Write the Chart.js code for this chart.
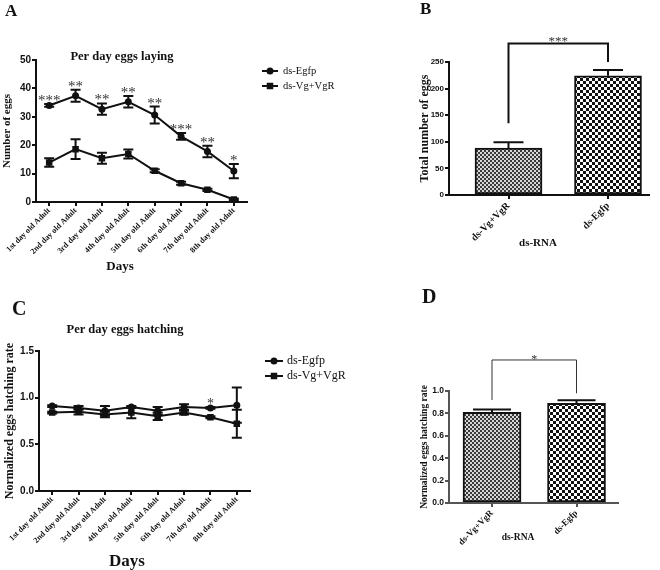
<!DOCTYPE html>
<html>
<head>
<meta charset="utf-8">
<script src="https://cdn.jsdelivr.net/npm/chart.js@4"></script>
<style>
  body { margin: 0; background: #fff; }
  #wrap { position: relative; width: 660px; height: 570px; overflow: hidden; }
  #wrap canvas { position: absolute; }
  .tag { position: absolute; font-family: "Liberation Serif"; font-weight: bold; line-height: 1; color: #111; }
</style>
</head>
<body>
<div id="wrap">
  <canvas id="cA" width="370" height="280" style="left:0;top:0;width:370px;height:280px"></canvas>
  <canvas id="cB" width="290" height="280" style="left:370px;top:0;width:290px;height:280px"></canvas>
  <canvas id="cC" width="370" height="294" style="left:0;top:280px;width:370px;height:294px"></canvas>
  <canvas id="cD" width="290" height="290" style="left:370px;top:280px;width:290px;height:290px"></canvas>
  <div class="tag" style="left:5px;top:2px;font-size:17px">A</div>
  <div class="tag" style="left:420px;top:0;font-size:17px">B</div>
  <div class="tag" style="left:12px;top:298px;font-size:20px">C</div>
  <div class="tag" style="left:422px;top:286px;font-size:20px">D</div>
</div>
<script>
// ---- data ----
const days = ['1st day old Adult', '2nd day old Adult', '3rd day old Adult', '4th day old Adult',
              '5th day old Adult', '6th day old Adult', '7th day old Adult', '8th day old Adult'];

// A: per day eggs laying
const layEgfp    = [34.0, 37.4, 32.7, 35.3, 30.6, 23.1, 17.8, 10.9];
const layEgfpErr = [0.5, 2.1, 2.0, 2.0, 3.0, 1.2, 2.0, 2.5];
const layVg      = [13.9, 18.6, 15.4, 16.9, 11.0, 6.6, 4.3, 0.9];
const layVgErr   = [1.5, 3.5, 1.9, 1.6, 0.5, 0.5, 0.4, 0.3];
const layStars   = ['***', '**', '**', '**', '**', '***', '**', '*'];

// C: per day eggs hatching
const hatchEgfp    = [0.91, 0.89, 0.86, 0.90, 0.86, 0.90, 0.89, 0.92];
const hatchEgfpErr = [0.01, 0.02, 0.05, 0.01, 0.04, 0.03, 0.01, 0.19];
const hatchVg      = [0.84, 0.85, 0.82, 0.84, 0.80, 0.84, 0.79, 0.72];
const hatchVgErr   = [0.01, 0.03, 0.03, 0.06, 0.04, 0.02, 0.01, 0.15];
const hatchStars   = ['', '', '', '', '', '', '*', ''];

// B and D: totals per treatment
const groups       = ['ds-Vg+VgR', 'ds-Egfp'];
const totalEggs    = [88, 224];
const totalEggsErr = [11, 11];
const hatchRate    = [0.81, 0.89];
const hatchRateErr = [0.024, 0.027];

const yTicksA = [0, 10, 20, 30, 40, 50];
const yTicksB = [0, 50, 100, 150, 200, 250];
const yTicksC = [0, 0.5, 1.0, 1.5];
const yTicksD = [0, 0.2, 0.4, 0.6, 0.8, 1.0];

Chart.defaults.font.family = 'Liberation Serif';
Chart.defaults.color = '#111';
Chart.defaults.animation = false;
Chart.defaults.plugins.legend.display = false;
Chart.defaults.plugins.tooltip.enabled = false;

const INK = '#111';

function val(d) { return typeof d === 'object' ? d.y : d; }

function checker(cell, a, b) {
  const c = document.createElement('canvas');
  c.width = c.height = cell * 2;
  const g = c.getContext('2d');
  g.fillStyle = b; g.fillRect(0, 0, cell * 2, cell * 2);
  g.fillStyle = a; g.fillRect(0, 0, cell, cell); g.fillRect(cell, cell, cell, cell);
  return g.createPattern(c, 'repeat');
}
const fine = checker(2, '#3a3a3a', '#d6d6d6');
const coarse = checker(3, '#111', '#fff');

// error bars: drawn from the dataset's errors array through the y scale
const errorBars = {
  id: 'errorBars',
  afterDatasetsDraw(chart, args, o) {
    const ctx = chart.ctx, ys = chart.scales.y;
    ctx.save();
    ctx.strokeStyle = INK;
    ctx.lineWidth = o.width || 2;
    chart.data.datasets.forEach((ds, di) => {
      if (!ds.errors) return;
      chart.getDatasetMeta(di).data.forEach((el, i) => {
        const v = val(ds.data[i]), e = ds.errors[i];
        const top = ys.getPixelForValue(v + e);
        const bot = o.upOnly ? ys.getPixelForValue(v) : ys.getPixelForValue(v - e);
        const x = el.x, c = o.cap;
        ctx.beginPath();
        ctx.moveTo(x, top); ctx.lineTo(x, bot);
        ctx.moveTo(x - c, top); ctx.lineTo(x + c, top);
        if (!o.upOnly) { ctx.moveTo(x - c, bot); ctx.lineTo(x + c, bot); }
        ctx.stroke();
      });
    });
    ctx.restore();
  }
};

// significance stars above the upper error bar
const stars = {
  id: 'stars',
  afterDatasetsDraw(chart, args, o) {
    const ctx = chart.ctx, ys = chart.scales.y;
    ctx.save();
    ctx.font = o.font;
    ctx.fillStyle = '#333';
    ctx.textAlign = 'center';
    ctx.textBaseline = 'alphabetic';
    chart.data.datasets.forEach((ds, di) => {
      if (!ds.stars) return;
      chart.getDatasetMeta(di).data.forEach((el, i) => {
        if (!ds.stars[i]) return;
        const top = ys.getPixelForValue(val(ds.data[i]) + ds.errors[i]);
        ctx.fillText(ds.stars[i], el.x, top + o.shift);
      });
    });
    ctx.restore();
  }
};

// comparison bracket between the two bars (data units)
const bracket = {
  id: 'bracket',
  afterDraw(chart, args, o) {
    if (!o.label) return;
    const ctx = chart.ctx, xs = chart.scales.x, ys = chart.scales.y;
    const x1 = xs.getPixelForValue(o.x1), x2 = xs.getPixelForValue(o.x2);
    const yt = ys.getPixelForValue(o.top);
    ctx.save();
    ctx.strokeStyle = o.color || INK;
    ctx.lineWidth = o.width;
    ctx.beginPath();
    ctx.moveTo(x1, ys.getPixelForValue(o.end1));
    ctx.lineTo(x1, yt);
    ctx.lineTo(x2, yt);
    ctx.lineTo(x2, ys.getPixelForValue(o.end2));
    ctx.stroke();
    ctx.font = o.font;
    ctx.fillStyle = '#333';
    ctx.textAlign = 'center';
    ctx.fillText(o.label, (x1 + x2) / 2, yt + o.shift);
    ctx.restore();
  }
};

// legend with line + marker, placed right of the plot
const sideLegend = {
  id: 'sideLegend',
  afterDraw(chart, args, o) {
    if (!o.x) return;
    const ctx = chart.ctx;
    ctx.save();
    ctx.font = o.font;
    ctx.textBaseline = 'middle';
    chart.data.datasets.forEach((ds, i) => {
      const y = o.y + i * o.gap;
      ctx.strokeStyle = INK; ctx.fillStyle = INK; ctx.lineWidth = 2;
      ctx.beginPath(); ctx.moveTo(o.x, y); ctx.lineTo(o.x + o.len, y); ctx.stroke();
      Chart.helpers.drawPoint(ctx, { pointStyle: ds.pointStyle, radius: ds.pointRadius, borderWidth: 0, rotation: 0 }, o.x + o.len / 2, y);
      ctx.fillStyle = INK;
      ctx.fillText(ds.label, o.x + o.len + o.textGap, y);
    });
    ctx.restore();
  }
};

// free text: plot titles and x axis titles
const texts = {
  id: 'texts',
  afterDraw(chart, args, o) {
    if (!o.items) return;
    const ctx = chart.ctx;
    ctx.save();
    ctx.fillStyle = INK;
    ctx.textAlign = 'center';
    ctx.textBaseline = 'middle';
    o.items.forEach(t => { ctx.font = t.font; ctx.fillText(t.text, t.x, t.y); });
    ctx.restore();
  }
};

function yAxis(ticks, title, tickSize, titleSize, width, color) {
  return {
    min: ticks[0], max: ticks[ticks.length - 1],
    afterBuildTicks: s => { s.ticks = ticks.map(v => ({ value: v })); },
    afterFit: s => { s.width = width; s.paddingTop = 0; s.paddingBottom = 0; },
    border: { display: true, color: color || INK, width: 2 },
    grid: { drawOnChartArea: false, drawTicks: true, tickLength: 4, color: color || INK, lineWidth: 2 },
    ticks: {
      padding: 1, color: INK,
      font: { family: 'Liberation Sans', weight: 'bold', size: tickSize },
      callback: v => (ticks[ticks.length - 1] <= 1.5 ? v.toFixed(1) : v)
    },
    title: { display: true, text: title, color: INK, padding: { top: 1, bottom: 1 },
             font: { family: 'Liberation Serif', weight: 'bold', size: titleSize } }
  };
}

function lineDatasets(egfp, egfpErr, vg, vgErr, st) {
  return [
    { label: 'ds-Egfp', data: egfp, errors: egfpErr, stars: st,
      borderColor: INK, backgroundColor: INK, borderWidth: 2,
      pointStyle: 'circle', pointRadius: 3.5, pointBorderWidth: 0, tension: 0 },
    { label: 'ds-Vg+VgR', data: vg, errors: vgErr,
      borderColor: INK, backgroundColor: INK, borderWidth: 2,
      pointStyle: 'rect', pointRadius: 4.6, pointBorderWidth: 0, tension: 0 }
  ];
}

function dayAxis(height, size) {
  return {
    type: 'category', offset: true,
    afterFit: s => { s.height = height; s.paddingLeft = 0; s.paddingRight = 0; },
    border: { display: true, color: INK, width: 2 },
    grid: { offset: false, drawOnChartArea: false, drawTicks: true, tickLength: 4, color: INK, lineWidth: 2 },
    ticks: { autoSkip: false, minRotation: 45, maxRotation: 45, padding: 0, color: INK,
             font: { family: 'Liberation Serif', weight: 'bold', size: size } }
  };
}

function groupAxis(min, max, height, size, color) {
  return {
    type: 'linear', min: min, max: max, offset: false,
    afterBuildTicks: s => { s.ticks = groups.map((g, i) => ({ value: i })); },
    afterFit: s => { s.height = height; s.paddingLeft = 0; s.paddingRight = 0; },
    border: { display: true, color: color || INK, width: 2 },
    grid: { offset: false, drawOnChartArea: false, drawTicks: true, tickLength: 4, color: color || INK, lineWidth: 2 },
    ticks: { autoSkip: false, minRotation: 45, maxRotation: 45, padding: 1, color: INK,
             callback: v => groups[v] || '',
             font: { family: 'Liberation Serif', weight: 'bold', size: size } }
  };
}

// ---- A ----
new Chart(document.getElementById('cA'), {
  type: 'line',
  data: { labels: days, datasets: lineDatasets(layEgfp, layEgfpErr, layVg, layVgErr, layStars) },
  plugins: [errorBars, stars, sideLegend, texts],
  options: {
    responsive: false,
    layout: { padding: { left: 0, top: 60, right: 123, bottom: 3 } },
    scales: { x: dayAxis(75, 8), y: yAxis(yTicksA, 'Number of eggs', 10, 11, 36) },
    plugins: {
      errorBars: { cap: 5, width: 2 },
      stars: { font: '15px "Liberation Serif"', shift: 1 },
      sideLegend: { x: 262, y: 71, gap: 15, len: 16, textGap: 5, font: '10.5px "Liberation Serif"' },
      texts: { items: [
        { text: 'Per day eggs laying', x: 122, y: 57, font: 'bold 12.5px "Liberation Serif"' },
        { text: 'Days', x: 120, y: 267, font: 'bold 13px "Liberation Serif"' }
      ] }
    }
  }
});

// ---- B ----
new Chart(document.getElementById('cB'), {
  type: 'bar',
  data: { datasets: [{
    label: 'Total', data: totalEggs.map((v, i) => ({ x: i, y: v })), errors: totalEggsErr,
    backgroundColor: [fine, coarse], borderColor: INK, borderWidth: 2, borderSkipped: false, barThickness: 67
  }] },
  plugins: [errorBars, bracket, texts],
  options: {
    responsive: false,
    layout: { padding: { left: 47, top: 62, right: 11, bottom: 0 } },
    scales: { x: groupAxis(-0.598, 1.412, 85, 10), y: yAxis(yTicksB, 'Total number of eggs', 8, 12, 32) },
    plugins: {
      errorBars: { cap: 15, width: 2, upOnly: true },
      bracket: { x1: 0, x2: 1, top: 285, end1: 135, end2: 250, label: '***', width: 2,
                 font: '13px "Liberation Serif"', shift: 2 },
      texts: { items: [ { text: 'ds-RNA', x: 168, y: 243, font: 'bold 11px "Liberation Serif"' } ] }
    }
  }
});

// ---- C ----
new Chart(document.getElementById('cC'), {
  type: 'line',
  data: { labels: days, datasets: lineDatasets(hatchEgfp, hatchEgfpErr, hatchVg, hatchVgErr, hatchStars) },
  plugins: [errorBars, stars, sideLegend, texts],
  options: {
    responsive: false,
    layout: { padding: { left: 2, top: 71, right: 120, bottom: 0 } },
    scales: { x: dayAxis(83, 8), y: yAxis(yTicksC, 'Normalized eggs hatching rate', 10, 12, 37) },
    plugins: {
      errorBars: { cap: 5, width: 2 },
      stars: { font: '14px "Liberation Serif"', shift: 1 },
      sideLegend: { x: 265, y: 81, gap: 15, len: 18, textGap: 4, font: '12px "Liberation Serif"' },
      texts: { items: [
        { text: 'Per day eggs hatching', x: 125, y: 50, font: 'bold 12.5px "Liberation Serif"' },
        { text: 'Days', x: 127, y: 282, font: 'bold 17px "Liberation Serif"' }
      ] }
    }
  }
});

// ---- D ----
new Chart(document.getElementById('cD'), {
  type: 'bar',
  data: { datasets: [{
    label: 'Rate', data: hatchRate.map((v, i) => ({ x: i, y: v })), errors: hatchRateErr,
    backgroundColor: [fine, coarse], borderColor: INK, borderWidth: 2, borderSkipped: false, barThickness: 58
  }] },
  plugins: [errorBars, bracket, texts],
  options: {
    responsive: false,
    layout: { padding: { left: 48, top: 111, right: 42, bottom: 0 } },
    scales: { x: groupAxis(-0.509, 1.491, 67, 9, '#555'), y: yAxis(yTicksD, 'Normalized eggs hatching rate', 8.5, 9.5, 31, '#555') },
    plugins: {
      errorBars: { cap: 19, width: 2, upOnly: true },
      bracket: { x1: 0, x2: 1, top: 1.277, end1: 0.92, end2: 0.98, label: '*', width: 1, color: '#333',
                 font: '12px "Liberation Serif"', shift: 3 },
      texts: { items: [ { text: 'ds-RNA', x: 148, y: 258, font: 'bold 9.5px "Liberation Serif"' } ] }
    }
  }
});
</script>
</body>
</html>
